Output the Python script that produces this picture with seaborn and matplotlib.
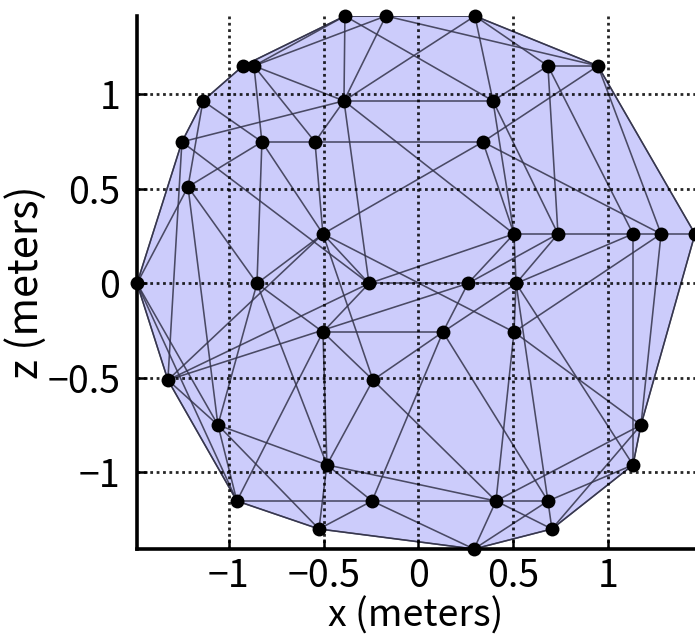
import numpy as np
import pandas as pd
import matplotlib
matplotlib.use("Agg")
import matplotlib.pyplot as plt
from matplotlib.collections import LineCollection
import seaborn as sns

# Mesh vertices projected onto the x-z plane (meters)
x_m = [-0.388, -0.172, 0.298, -0.926, -0.868, 0.683, 0.947, -1.137, -0.393, 0.393,
       -1.248, -0.826, -0.546, 0.340, -1.216, -0.504, 0.504, 0.736, 1.132, 1.280,
       1.459, -1.485, -0.852, -0.261, 0.261, 0.515, -0.504, 0.129, 0.504, -1.322,
       -0.240, -1.058, 1.174, -0.483, 1.132, -0.958, -0.245, 0.409, 0.683, -0.525,
       0.704, 0.293]
z_m = [1.415, 1.415, 1.415, 1.151, 1.151, 1.151, 1.151, 0.966, 0.966, 0.966,
       0.749, 0.749, 0.749, 0.749, 0.511, 0.262, 0.262, 0.262, 0.262, 0.262,
       0.262, 0.000, 0.000, 0.000, 0.000, 0.000, -0.257, -0.257, -0.257, -0.511,
       -0.511, -0.749, -0.749, -0.960, -0.960, -1.151, -1.151, -1.151, -1.151, -1.299,
       -1.299, -1.405]

# Outline of the mesh (vertex numbers, counted from 1)
hull = [22, 11, 8, 4, 1, 2, 3, 7, 21, 33, 35, 41, 42, 40, 36, 30]

# Mesh edges (vertex numbers, counted from 1)
edges = [
    (22, 11), (11, 8), (8, 4), (4, 1), (1, 2), (2, 3), (3, 7), (7, 21), (21, 33),
    (33, 35), (35, 41), (41, 42), (42, 40), (40, 36), (36, 30), (30, 22),
    (4, 5), (5, 1), (5, 2), (5, 12), (5, 13), (5, 9), (8, 12), (8, 15), (1, 9),
    (2, 9), (2, 7), (3, 6), (3, 10), (3, 9), (1, 10), (6, 7), (6, 10), (6, 18),
    (6, 19), (7, 14), (7, 20), (9, 10), (9, 11), (9, 13), (9, 17), (9, 24),
    (10, 17), (10, 18), (12, 13), (13, 14), (13, 16), (12, 15), (12, 16), (12, 23),
    (11, 30), (11, 24), (14, 16), (14, 20), (14, 17),
    (15, 22), (15, 23), (15, 32), (16, 23), (16, 24), (16, 29), (16, 30), (16, 31),
    (17, 18), (18, 19), (19, 20), (20, 21), (17, 24), (17, 25), (17, 26), (18, 25),
    (18, 26), (19, 26), (20, 29), (19, 35), (20, 33), (24, 25), (25, 26), (24, 27),
    (23, 27), (24, 30), (25, 30), (25, 28), (26, 28), (26, 29), (26, 35), (27, 28),
    (27, 31), (27, 34), (27, 36), (28, 31), (28, 37), (28, 39), (29, 33), (29, 38),
    (26, 39), (23, 32), (23, 34), (22, 32), (22, 36), (30, 32),
    (32, 36), (32, 34), (32, 40), (31, 34), (31, 38), (34, 40), (34, 37), (34, 38),
    (36, 37), (37, 38), (38, 39), (37, 40), (37, 42), (38, 42), (38, 41), (38, 33),
    (39, 41), (39, 42), (39, 35), (41, 33),
]

tick_vals = [-1, -0.5, 0, 0.5, 1]
tick_text = ["\u22121", "\u22120.5", "0", "0.5", "1"]

sns.set_style("ticks")
plt.rcParams["font.family"] = ["Noto Sans CJK JP", "DejaVu Sans"]
plt.rcParams["text.color"] = "black"
plt.rcParams["axes.labelcolor"] = "black"

pts = pd.DataFrame({"x": x_m, "z": z_m})
xs = pts["x"].to_numpy()
zs = pts["z"].to_numpy()

fig = plt.figure(figsize=(6.95, 6.42), dpi=100)
ax = fig.add_axes([137 / 695, 93 / 642, 558 / 695, 533 / 642])

hidx = np.array(hull) - 1
ax.fill(xs[hidx], zs[hidx], facecolor="#ccccfb", edgecolor="#4a4a62",
        linewidth=1.0, zorder=1)

segs = [[(xs[a - 1], zs[a - 1]), (xs[b - 1], zs[b - 1])] for a, b in edges]
ax.add_collection(LineCollection(segs, colors="#33334a", linewidths=1.15,
                                 alpha=0.85, zorder=2))

sns.scatterplot(data=pts, x="x", y="z", ax=ax, color="black", s=100,
                edgecolor="black", linewidth=0, zorder=4, clip_on=False,
                legend=False)

ax.set_xlim(xs.min(), xs.max())
ax.set_ylim(zs.min(), zs.max())

ax.set_axisbelow(False)
ax.grid(True, color="black", linestyle=(0, (1, 1.3)), linewidth=2.0, alpha=0.85)

ax.set_xticks(tick_vals)
ax.set_xticklabels(tick_text)
ax.set_yticks(tick_vals)
ax.set_yticklabels(tick_text)
ax.tick_params(direction="in", length=7, width=1.8, labelsize=27,
               colors="black")
ax.tick_params(axis="x", pad=6)
ax.tick_params(axis="y", pad=12)

for side in ("top", "right"):
    ax.spines[side].set_visible(False)
for side in ("left", "bottom"):
    ax.spines[side].set_linewidth(2.6)
    ax.spines[side].set_color("black")

ax.set_xlabel("x (meters)", fontsize=27, labelpad=0)
ax.set_ylabel("z (meters)", fontsize=30, labelpad=0)

fig.savefig("out.png", dpi=100)
